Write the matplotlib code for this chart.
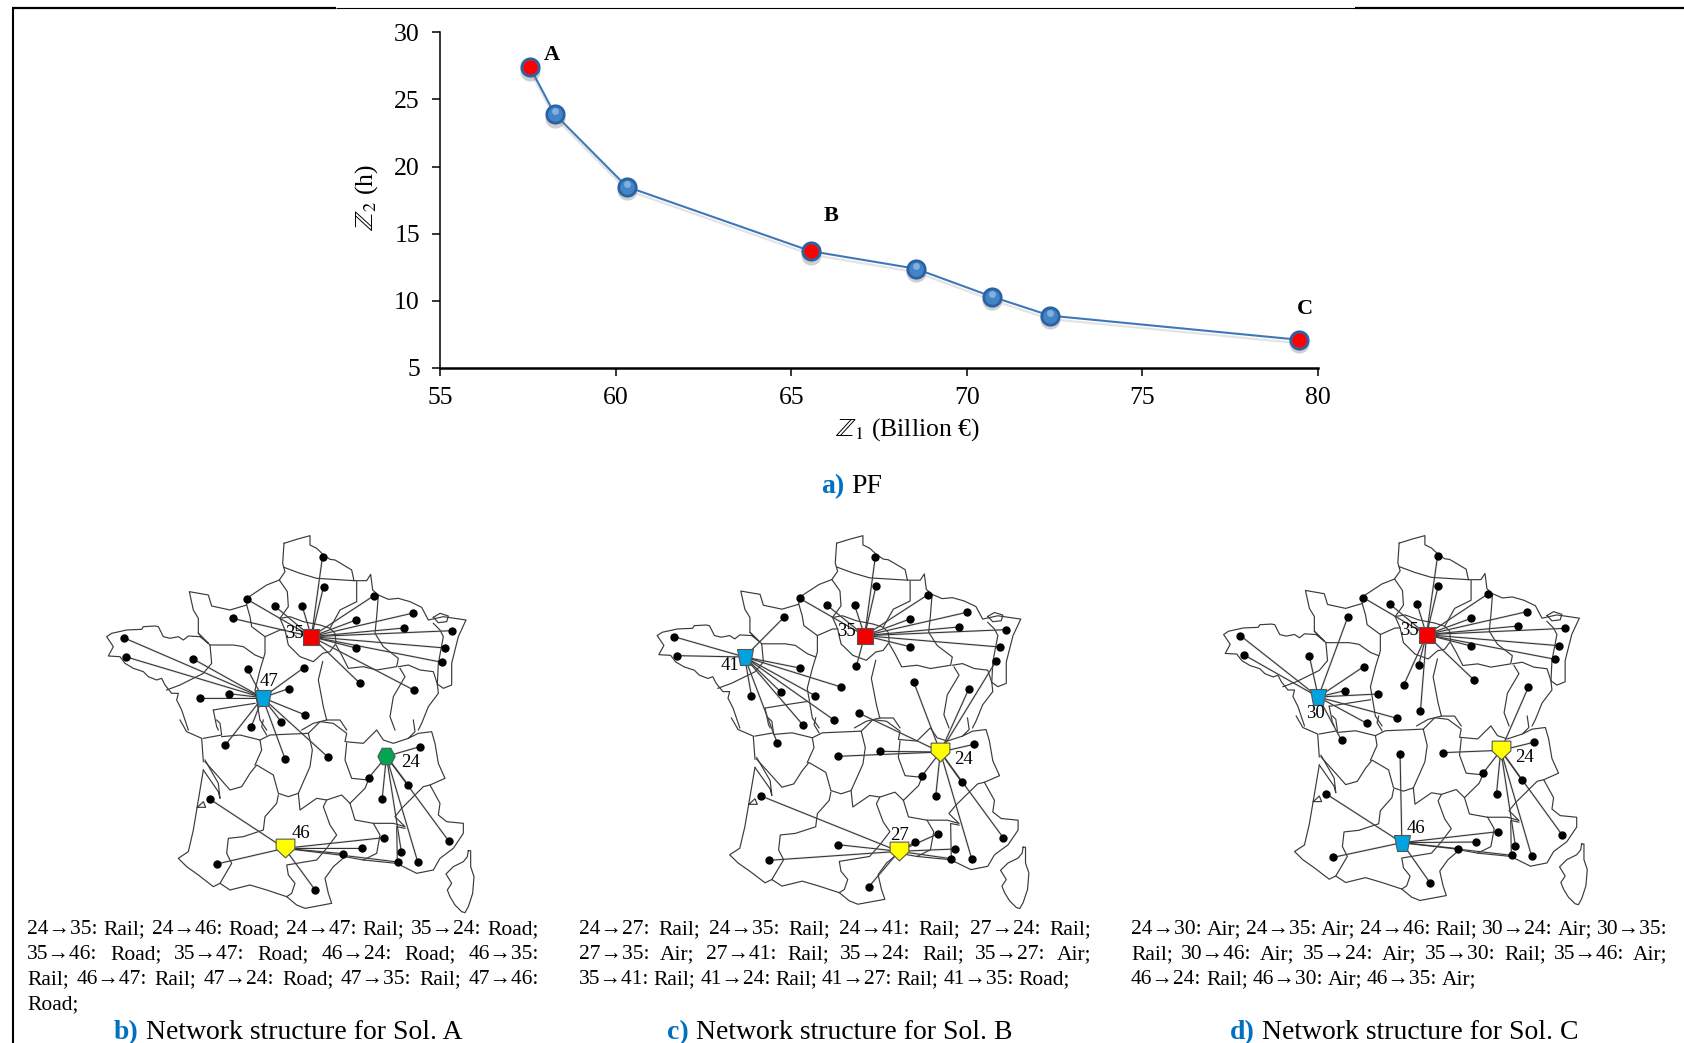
import matplotlib
matplotlib.use("Agg")
import matplotlib.pyplot as plt
import matplotlib.transforms as mtrans
from matplotlib.path import Path

W, H = 1684, 1043
plt.rcParams['font.family'] = ['Liberation Serif', 'DejaVu Sans']
plt.rcParams['mathtext.fontset'] = 'stix'

# ---------------- Pareto front data
z1 = [57.56, 58.27, 60.32, 65.56, 68.54, 70.73, 72.37, 79.47]
z2 = [27.4, 23.9, 18.5, 13.7, 12.4, 10.3, 8.9, 7.1]
sol_idx = [0, 3, 7]
sol_names = ['A', 'B', 'C']
xticks = [55, 60, 65, 70, 75, 80]
yticks = [5, 10, 15, 20, 25, 30]

north_lines = [
 [(552,40),(590,28),(630,17),(630,45),(650,55),(668,72),(690,88),(705,90),(722,100),(755,120),(762,152),(800,152),(812,133),(818,180),(835,195),(865,208),(895,205),(930,215),(965,232),(985,270),(1030,260),(1098,270),(1075,320),(1055,400),(1055,465),(1030,475),(1012,462),(1015,490),(985,530),(965,580),(955,600)],
 [(552,40),(548,100),(555,125),(538,150),(500,165),(440,205),(440,225),(390,240),(335,228),(325,195),(268,185),(280,240),(295,265),(295,310),(325,340),(300,320),(265,318),(250,330),(235,320),(210,325),(190,320),(175,290),(165,288),(130,290),(125,298),(80,300),(35,310),(20,320),(40,350),(25,378),(60,380),(75,400),(100,415),(130,425),(145,440),(170,450),(185,445),(195,465),(215,490),(235,490),(230,510),(245,540),(265,600)],
 [(552,112),(600,130),(650,145),(762,152)],
 [(538,150),(562,185),(565,230),(540,265)],
 [(440,225),(450,260),(455,290),(495,320),(540,300),(555,300)],
 [(540,265),(555,300),(565,345),(600,380),(640,395),(668,370),(690,365),(708,340),(705,310),(690,295),(660,285),(610,275),(570,260),(540,265)],
 [(690,295),(720,240),(770,215),(770,155)],
 [(835,195),(830,260),(825,310),(850,350),(895,385),(890,410),(830,420),(790,410),(745,415),(725,375),(708,345)],
 [(1000,280),(1020,300),(1030,320),(1015,400),(1012,462)],
 [(1000,262),(1020,250),(1045,258),(1040,275),(1015,278),(1000,262)],
 [(895,410),(925,405),(960,420),(1000,425),(1012,462)],
 [(900,415),(915,440),(880,500),(870,560),(885,600)],
 [(668,395),(655,450),(670,530),(680,570),(720,570),(740,600)],
 [(605,600),(640,580),(680,570)],
 [(295,310),(330,345),(335,400),(310,430),(240,465),(200,480)],
 [(330,345),(400,345),(430,350),(465,375),(490,385)],
 [(495,320),(495,370),(480,420),(470,460),(465,480),(480,570),(500,600)],
 [(340,540),(400,530),(465,520)],
 [(340,540),(350,590),(355,600)],
]
south_lines = [
 [(130,150),(115,240),(100,330),(85,395),(55,415),(80,440),(115,465),(160,500),(180,490),(210,510),(270,495),(320,510),(380,530),(410,555),(435,565),(515,550),(505,520),(495,475),(520,440),(555,410),(610,420),(660,425),(710,430),(770,460),(820,450),(840,415),(880,385),(910,340),(910,310),(860,305),(835,285),(840,250),(810,195),(855,175),(835,130),(825,70),(815,35),(775,40),(745,55),(765,35),(760,0)],
 [(925,392),(932,392),(932,440),(942,470),(938,520),(925,560),(915,578),(905,575),(885,555),(870,530),(862,510),(875,490),(858,462),(880,440),(910,425),(922,410),(925,392)],
 [(130,125),(125,55),(80,35),(60,0)],
 [(130,150),(175,215),(180,235),(175,190),(135,120)],
 [(112,262),(130,245),(137,262),(112,262)],
 [(130,55),(185,45),(180,10),(170,0)],
 [(300,60),(330,45),(445,40),(457,90),(450,140),(415,220),(385,230),(355,220),(340,165),(290,135),(270,160),(245,200),(210,210),(175,170),(135,125)],
 [(185,50),(240,45),(300,60),(305,90),(285,135)],
 [(320,45),(305,20),(310,0)],
 [(445,40),(480,5),(520,10),(560,40),(555,65),(610,70),(650,30),(670,60),(700,70),(745,55)],
 [(560,70),(555,120),(575,175),(625,180),(615,205),(570,250),(545,225),(500,240),(470,235),(420,270),(415,220)],
 [(570,250),(585,300),(640,310),(700,310),(735,320),(705,290),(725,265),(790,200),(810,195)],
 [(735,325),(710,320),(712,430)],
 [(640,310),(660,345),(650,400),(610,420)],
 [(500,240),(490,260),(510,315),(530,345),(500,385),(470,420),(380,435),(385,465),(405,490),(395,520),(380,530)],
 [(355,225),(350,250),(315,290),(310,330),(250,350),(205,355),(200,400),(215,430),(180,490)],
]

# ---------------- networks: hub -> served points
net_b = {
 35: ((872,350), [(903,110),(906,200),(692,238),(769,258),(846,258),(1047,227),(651,295),(997,300),(1157,279),(1132,324),(1266,332),(997,384),(1246,384),(1238,427),(1008,490),(1160,511)]),
 47: ((735,533), [(346,353),(354,411),(541,417),(693,448),(851,443),(808,506),(560,533),(641,521),(855,585),(788,606),(703,622),(631,675),(798,716),(918,711)]),
 24: ((1082,709), [(1176,680),(1032,774),(1143,795),(1070,837),(1124,997),(1170,1027),(1257,964)]),
 46: ((797,985), [(587,837),(1075,953),(1013,985),(961,1001),(1114,1026),(607,1032),(883,1111)]),
}
net_c = {
 35: ((853,347), [(883,110),(885,198),(671,235),(748,256),(825,256),(1029,225),(980,297),(1139,277),(1116,321),(1249,329),(980,380),(1231,381),(830,438)]),
 41: ((517,411), [(319,350),(328,407),(627,292),(671,444),(787,501),(714,527),(618,516),(536,527),(681,616),(767,600),(608,668)]),
 24: ((1065,696), [(990,485),(1145,506),(1221,423),(836,579),(897,694),(778,709),(1159,673),(1014,767),(1125,787),(1052,828),(1153,1017),(1241,953)]),
 27: ((949,994), [(563,828),(778,974),(585,1021),(994,966),(1057,942),(1106,987),(1095,1016),(865,1100)]),
}
net_d = {
 35: ((847,344), [(878,108),(880,197),(670,233),(745,253),(821,253),(1019,222),(972,295),(1128,275),(1104,318),(1236,325),(972,378),(1217,377),(1208,418),(825,435),(783,496),(830,574),(981,481)]),
 30: ((544,531), [(326,347),(335,404),(519,408),(627,290),(671,440),(618,512),(712,522),(765,595),(680,610),(609,661)]),
 24: ((1055,691), [(1132,502),(1147,667),(892,698),(1005,760),(1114,780),(1043,821),(1096,978),(1141,1007),(1227,945)]),
 46: ((778,968), [(773,703),(565,821),(1047,935),(986,966),(934,986),(1085,1006),(586,1012),(858,1090)]),
}
labels_b = {35: (824,340), 47: (752,484), 24: (1148,727), 46: (842,942)}
labels_c = {35: (802,335), 41: (477,438), 24: (1131,718), 27: (951,948)}
labels_d = {35: (799,332), 30: (537,580), 24: (1120,712), 46: (817,925)}

text_b = ["24→35: Rail; 24→46: Road; 24→47: Rail; 35→24: Road;",
          "35→46: Road; 35→47: Road; 46→24: Road; 46→35:",
          "Rail; 46→47: Rail; 47→24: Road; 47→35: Rail; 47→46:",
          "Road;"]
text_c = ["24→27: Rail; 24→35: Rail; 24→41: Rail; 27→24: Rail;",
          "27→35: Air; 27→41: Rail; 35→24: Rail; 35→27: Air;",
          "35→41: Rail; 41→24: Rail; 41→27: Rail; 41→35: Road;"]
text_d = ["24→30: Air; 24→35: Air; 24→46: Rail; 30→24: Air; 30→35:",
          "Rail; 30→46: Air; 35→24: Air; 35→30: Rail; 35→46: Air;",
          "46→24: Rail; 46→30: Air; 46→35: Air;"]

# ---------------- figure
fig = plt.figure(figsize=(W/100, H/100), dpi=100, facecolor='white')
ax = fig.add_axes([440/W, 1-368/H, (1318-440)/W, (368-32.3)/H])
ov = fig.add_axes([0, 0, 1, 1], facecolor='none')
ov.set_xlim(0, W); ov.set_ylim(H, 0); ov.axis('off')
ov.set_zorder(3)

# frame lines
ov.plot([12.5, 12.5], [7.5, H], color='k', lw=1.5, solid_capstyle='butt')
ov.plot([12, 336], [7.5, 7.5], color='k', lw=1.6, solid_capstyle='butt')
ov.plot([336, 1355], [7.5, 7.5], color='k', lw=0.8, solid_capstyle='butt')
ov.plot([1355, W], [7.5, 7.5], color='k', lw=1.6, solid_capstyle='butt')

# ---------------- PF chart
LINE = '#3F78B8'
shadow = mtrans.offset_copy(ax.transData, fig=fig, x=0, y=-2.5, units='points')
ax.plot(z1, z2, color='#888888', lw=1.6, alpha=0.22, transform=shadow, zorder=1)
ax.plot(z1, z2, color=LINE, lw=1.5, zorder=2)
ax.plot(z1, z2, ls='none', marker='o', ms=14.5, color='#777777', alpha=0.35, mew=0, transform=shadow, zorder=3)
ax.plot(z1, z2, ls='none', marker='o', ms=14.5, mfc='#2A62A6', mec='#2A62A6', mew=0, zorder=4)
ax.plot(z1, z2, ls='none', marker='o', ms=10.5, mfc='#4484C6', mew=0, zorder=5)
hi = mtrans.offset_copy(ax.transData, fig=fig, x=0, y=2, units='points')
ax.plot(z1, z2, ls='none', marker='o', ms=5, mfc='#7FB0E0', mew=0, transform=hi, zorder=6)
sx = [z1[i] for i in sol_idx]; sy = [z2[i] for i in sol_idx]
ax.plot(sx, sy, ls='none', marker='o', ms=10.5, mfc='#FF0000', mew=0, zorder=7)
for n, x, y, off in zip(sol_names, sx, sy, [(22, 12), (20, 35), (6, 31)]):
    ax.annotate(n, (x, y), xytext=off, textcoords='offset pixels', ha='center', va='center',
                fontsize=16, fontweight='bold', color='k', zorder=8)
ax.set_xlim(55, 80); ax.set_ylim(5, 30)
ax.set_xticks(xticks); ax.set_yticks(yticks)
ax.tick_params(axis='x', length=6, width=1.1, labelsize=18.5, pad=8, color='k')
ax.tick_params(axis='y', length=6, width=1.1, labelsize=18.5, pad=8.5, color='k')
for s in ('top', 'right'):
    ax.spines[s].set_visible(False)
ax.spines['left'].set_linewidth(1.1)
ax.spines['bottom'].set_linewidth(1.8)
ov.text(907, 430, r'$\mathbb{Z}_1$ (Billion €)', fontsize=18.5, ha='center', va='center')
ov.text(367, 198, r'$\mathbb{Z}_2$ (h)', fontsize=18.5, ha='center', va='center', rotation=90)

# ---------------- helpers
fig.canvas.draw()
rend = fig.canvas.get_renderer()

def width(t):
    return t.get_window_extent(rend).width

def runs(center_x, base_y, parts, size):
    items = [ov.text(0, base_y, s, fontsize=size, color=c, fontweight=w, va='baseline', ha='left')
             for s, c, w in parts]
    space = 0.25 * size * 100 / 72
    total = sum(width(t) for t in items) + space * (len(items) - 1)
    x = center_x - total / 2
    for t in items:
        t.set_x(x)
        x += width(t) + space

def justified(lines, x0, x1, base_y, step, size, last_free):
    for i, line in enumerate(lines):
        ws = [ov.text(0, base_y + i * step, w, fontsize=size, va='baseline', ha='left') for w in line.split(' ')]
        ww = [width(t) for t in ws]
        free = i >= last_free
        gap = 0.22 * size * 100 / 72 if free or len(ws) == 1 else (x1 - x0 - sum(ww)) / (len(ws) - 1)
        x = x0
        for t, w in zip(ws, ww):
            t.set_x(x)
            x += w + gap

SX, SY = 1 / 2.8, 1 / 3.0
SHAPES = {
 'square': Path([(-1,-1),(1,-1),(1,1),(-1,1),(-1,-1)]),
 'trap': Path([(-1,1),(1,1),(0.62,-1),(-0.62,-1),(-1,1)]),
 'penta': Path([(-1,1),(1,1),(1,-0.05),(0,-1),(-1,-0.05),(-1,1)]),
 'hexa': Path([(-1,0),(-0.5,0.95),(0.5,0.95),(1,0),(0.5,-0.95),(-0.5,-0.95),(-1,0)]),
}
STYLE = {'square': ('#F20000', 11), 'trap': ('#00A3E0', 11.5), 'penta': ('#FFFF00', 13.5), 'hexa': ('#00A651', 12.5)}

def draw_panel(origin_x, xscale, xoff, yscale, yoff, net, hubs_style, labels):
    # map borders, first given in crop coordinates of panel b
    def tr(px, py):
        return px * xscale + xoff, py * yscale + yoff
    for group, ox, oy in ((north_lines, 100, 530), (south_lines, 160, 720)):
        for ln in group:
            pts = [tr(ox + a / 3, oy + b / 3) for a, b in ln]
            ov.plot([p[0] for p in pts], [p[1] for p in pts], color='#3a3a3a', lw=0.85, zorder=2, solid_joinstyle='round')
    for hub, (h, leaves) in net.items():
        hx, hy = origin_x + h[0] * SX, 520 + h[1] * SY
        for a, b in leaves:
            lx, ly = origin_x + a * SX, 520 + b * SY
            ov.plot([hx, lx], [hy, ly], color='#999999', lw=1.6, alpha=0.3, zorder=3)
            ov.plot([hx, lx], [hy, ly], color='#333333', lw=0.75, zorder=4)
            ov.plot([lx], [ly], ls='none', marker='o', ms=6, color='k', mew=0, zorder=5)
        shp = hubs_style[hub]
        c, ms = STYLE[shp]
        ov.plot([hx], [hy], ls='none', marker=SHAPES[shp], ms=ms, mfc=c, mec='#555555', mew=0.8, zorder=6)
        lab = labels[hub]
        ov.text(origin_x + lab[0] * SX, 520 + lab[1] * SY, str(hub), fontsize=13.5, ha='center', va='center', zorder=7)

draw_panel(0, 1, 0, 1, 0, net_b, {35:'square', 47:'trap', 24:'hexa', 46:'penta'}, labels_b)
draw_panel(560, 1.012, 549.2, 0.989, 5.9, net_c, {35:'square', 41:'trap', 24:'penta', 27:'penta'}, labels_c)
draw_panel(1124, 0.990, 1118, 0.979, 11.2, net_d, {35:'square', 30:'trap', 24:'penta', 46:'trap'}, labels_d)

justified(text_b, 27, 539, 934, 25, 15.5, 3)
justified(text_c, 578.6, 1091, 934, 25, 15.5, 2)
justified(text_d, 1131, 1667.6, 934, 25, 15.5, 2)

BLUE = '#0070C0'
runs(288, 1039, [('b)', BLUE, 'bold'), ('Network structure for Sol. A', 'k', 'normal')], 20)
runs(840, 1039, [('c)', BLUE, 'bold'), ('Network structure for Sol. B', 'k', 'normal')], 20)
runs(1404, 1039, [('d)', BLUE, 'bold'), ('Network structure for Sol. C', 'k', 'normal')], 20)
runs(852, 493, [('a)', BLUE, 'bold'), ('PF', 'k', 'normal')], 20)

fig.savefig('out.png', dpi=100, facecolor='white')
